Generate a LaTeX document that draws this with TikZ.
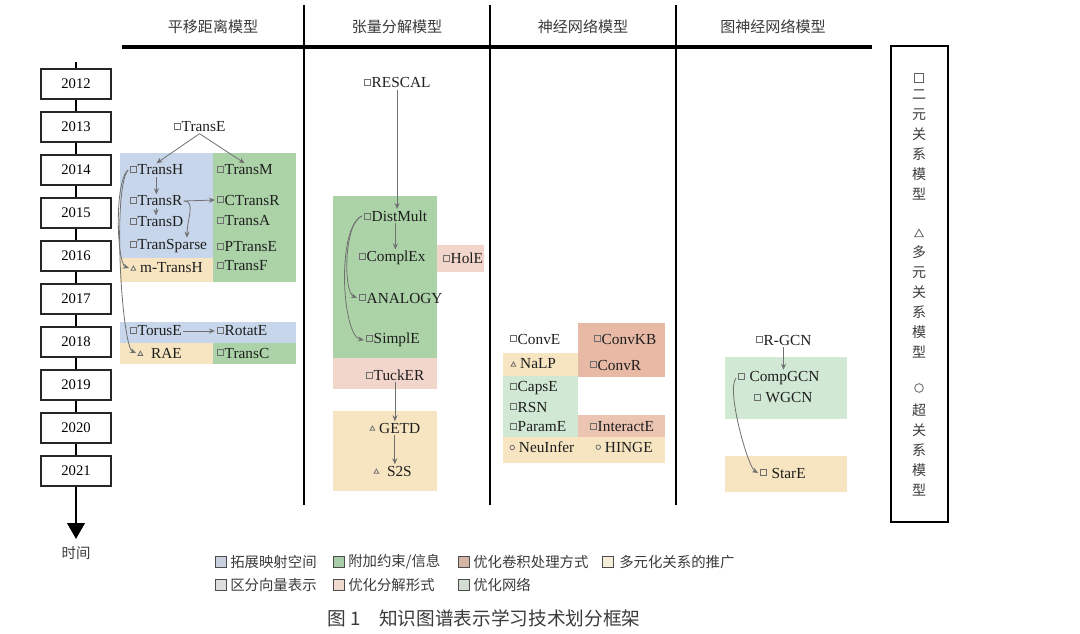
\documentclass[tikz,border=0pt]{standalone}
\usepackage{fontspec}
\setmainfont{Liberation Serif}
\newfontfamily\cjk{Noto Sans CJK SC}
\newfontfamily\symf{DejaVu Sans}
\usetikzlibrary{arrows.meta}
\definecolor{blueR}{HTML}{C7D6EA}
\definecolor{greenR}{HTML}{ACD3A8}
\definecolor{pinkR}{HTML}{F3D6CB}
\definecolor{salmonR}{HTML}{E8BAA5}
\definecolor{orangeR}{HTML}{F6E5C0}
\definecolor{lgreenR}{HTML}{D0E8D4}
\definecolor{mk}{HTML}{6E6E6E}
\definecolor{txt}{HTML}{1E1E1E}
\definecolor{arr}{HTML}{707070}
\definecolor{ttl}{HTML}{3A3A3A}
\definecolor{lc1}{HTML}{C9D1DF}
\definecolor{lc2}{HTML}{A9CCA9}
\definecolor{lc3}{HTML}{D4B6A6}
\definecolor{lc4}{HTML}{F6EDD8}
\definecolor{lc5}{HTML}{DEDEDE}
\definecolor{lc6}{HTML}{F0DAD0}
\definecolor{lc7}{HTML}{D3DDD3}
\newcommand\msq{\tikz[baseline=0pt]\draw[mk, line width=0.7pt] (0pt,1.6pt) rectangle (4.6pt,6.2pt);\hspace{0.8pt}}
\newcommand\mtri{\tikz[baseline=0pt]\draw[mk, line width=0.6pt] (0pt,2pt) -- (3.6pt,2pt) -- (1.8pt,5.2pt) -- cycle;\hspace{3pt}}
\newcommand\mcir{\tikz[baseline=0pt]\draw[mk, line width=0.6pt] (1.8pt,3.6pt) circle[radius=1.7pt];\hspace{3pt}}
\tikzset{
  mdl/.style={anchor=west, inner sep=1pt, text=txt, font=\fontsize{11.5}{12}\selectfont},
  conn/.style={draw=arr, line width=0.6pt, -{Stealth[length=4.5pt,width=3.8pt]}},
  yearbox/.style={draw=black!85, line width=1.3pt, fill=white, minimum width=52pt, minimum height=23pt, inner sep=0pt, font=\fontsize{11}{12}\selectfont},
  divider/.style={line width=2.2pt, black},
  coltitle/.style={text=ttl, font=\cjk\fontsize{11.3}{12}\selectfont},
  legsq/.style={draw=black!70, line width=0.8pt, minimum size=8pt, inner sep=0pt},
  legtxt/.style={anchor=west, inner sep=0pt, text=ttl, font=\cjk\fontsize{10.8}{12}\selectfont},
  vtext/.style={align=center, inner sep=0pt, text=ttl, font=\cjk\fontsize{10.5}{15}\selectfont},
  vmark/.style={inner sep=0pt, draw=ttl!80, line width=0.6pt}
}
\begin{document}
\begin{tikzpicture}[x=0.75pt, y=-0.75pt]
\useasboundingbox (0,0) rectangle (1080,634);
% ---------- background regions ----------
\fill[blueR] (120,153) rectangle (213,258);
\fill[orangeR] (120,258) rectangle (213,282);
\fill[greenR] (213,153) rectangle (296,282);
\fill[blueR] (120,322) rectangle (296,343);
\fill[orangeR] (120,343) rectangle (213,364);
\fill[greenR] (213,343) rectangle (296,364);
\fill[greenR] (333,196) rectangle (437,358);
\fill[pinkR] (333,358) rectangle (437,389);
\fill[pinkR] (437,245) rectangle (484,272);
\fill[orangeR] (333,411) rectangle (437,491);
\fill[salmonR] (578,323) rectangle (665,377);
\fill[orangeR] (503,353) rectangle (578,463);
\fill[orangeR] (578,437) rectangle (665,463);
\fill[lgreenR] (503,376) rectangle (578,437);
\fill[salmonR!85!white] (578,415) rectangle (665,437);
\fill[lgreenR] (725,357) rectangle (847,419);
\fill[orangeR] (725,456) rectangle (847,492);
% ---------- frame lines ----------
\draw[divider] (304,5) -- (304,505);
\draw[divider] (490,5) -- (490,505);
\draw[divider] (676,5) -- (676,505);
\draw[line width=3pt] (122,47) -- (872,47);
\draw[line width=2.2pt] (891,46) rectangle (948,522);
\node[coltitle] (t1) at (213,27) {平移距离模型};
\node[coltitle] (t2) at (397,27) {张量分解模型};
\node[coltitle] (t3) at (583,27) {神经网络模型};
\node[coltitle] (t4) at (773,27) {图神经网络模型};
% ---------- right key box ----------
\node[vmark, rectangle, minimum size=6.5pt] (k1) at (919,78) {};
\node[vtext] (k1t) at (919,145) {二\\元\\关\\系\\模\\型};
\node[inner sep=0pt] (k2) at (919,233) {\tikz\draw[ttl!80, line width=0.6pt] (0pt,0pt) -- (6.5pt,0pt) -- (3.25pt,5.6pt) -- cycle;};
\node[vtext] (k2t) at (919,302) {多\\元\\关\\系\\模\\型};
\node[vmark, circle, minimum size=6.5pt] (k3) at (919,388) {};
\node[vtext] (k3t) at (919,450) {超\\关\\系\\模\\型};
% ---------- timeline ----------
\coordinate (ttop) at (76,62);
\coordinate (tend) at (76,539);
\foreach \yr/\yy in {2012/84,2013/127,2014/170,2015/213,2016/256,2017/299,2018/342,2019/385,2020/428,2021/471}
  \node[yearbox] (y\yr) at (76,\yy) {\yr};
\draw[line width=2.2pt] (ttop) -- (y2012.north);
\foreach \a/\b in {2012/2013,2013/2014,2014/2015,2015/2016,2016/2017,2017/2018,2018/2019,2019/2020,2020/2021}
  \draw[line width=2.2pt] (y\a.south) -- (y\b.north);
\draw[line width=2.2pt, -{Triangle[length=12pt,width=13pt]}] (y2021.south) -- (tend);
\node[text=ttl, font=\cjk\fontsize{10.8}{12}\selectfont] (time) at (76,553) {时间};
% ---------- translation models ----------
\node[mdl] (transe) at (172,127) {\msq TransE};
\node[mdl] (transh) at (128,170) {\msq TransH};
\node[mdl] (transr) at (128,201) {\msq TransR};
\node[mdl] (transd) at (128,222) {\msq TransD};
\node[mdl] (transparse) at (128,246) {\msq TranSparse};
\node[mdl] (mtransh) at (129,268) {\mtri m-TransH};
\node[mdl] (transm) at (215,170) {\msq TransM};
\node[mdl] (ctransr) at (215,200) {\msq CTransR};
\node[mdl] (transa) at (215,221) {\msq TransA};
\node[mdl] (ptranse) at (215,247) {\msq PTransE};
\node[mdl] (transf) at (215,266) {\msq TransF};
\node[mdl] (toruse) at (128,331) {\msq TorusE};
\node[mdl] (rotate) at (215,331) {\msq RotatE};
\node[mdl] (rae) at (136,353) {\mtri\ RAE};
\node[mdl] (transc) at (215,353) {\msq TransC};
\draw[conn] (transe.south) -- (transh.north);
\draw[conn] (transe.south) -- (transm.north);
\draw[conn] (transh.south) -- (transh.south |- transr.north);
\draw[conn] (transr.south) -- (transr.south |- transd.north);
\draw[conn] (transr.east) -- (ctransr.west);
\draw[conn] (transr.east) .. controls +(12,0) and +(0,-18) .. ([xshift=14pt]transparse.north);
\draw[conn] (transh.west) .. controls +(-14,12) and +(-12,-4) .. (mtransh.west);
\draw[conn] (transh.west) .. controls +(-16,20) and +(-14,-6) .. (rae.west);
\draw[conn] (toruse.east) -- (rotate.west);
% ---------- tensor models ----------
\node[mdl] (rescal) at (362,83) {\msq RESCAL};
\node[mdl] (distmult) at (362,216) {\msq DistMult};
\node[mdl] (complex) at (357,258) {\msq ComplEx};
\node[mdl] (analogy) at (357,298) {\msq ANALOGY};
\node[mdl] (simple) at (364,340) {\msq SimplE};
\node[mdl] (hole) at (441,258) {\msq HolE};
\node[mdl] (tucker) at (364,375) {\msq TuckER};
\node[mdl] (getd) at (368,428) {\mtri GETD};
\node[mdl] (s2s) at (372,471) {\mtri\ S2S};
\draw[conn] (rescal.south) -- (rescal.south |- distmult.north);
\draw[conn] (distmult.south) -- (distmult.south |- complex.north);
\draw[conn] (distmult.west) .. controls +(-18,6) and +(-14,-6) .. (analogy.west);
\draw[conn] (distmult.west) .. controls +(-26,12) and +(-22,-4) .. (simple.west);
\draw[conn] (tucker.south) -- (tucker.south |- getd.north);
\draw[conn] (getd.south) -- (getd.south |- s2s.north);
% ---------- neural network models ----------
\node[mdl] (conve) at (508,339) {\msq ConvE};
\node[mdl] (convkb) at (592,339) {\msq ConvKB};
\node[mdl] (convr) at (588,365) {\msq ConvR};
\node[mdl] (nalp) at (509,364) {\mtri NaLP};
\node[mdl] (capse) at (508,388) {\msq CapsE};
\node[mdl] (rsn) at (508,407) {\msq RSN};
\node[mdl] (parame) at (508,427) {\msq ParamE};
\node[mdl] (interacte) at (588,427) {\msq InteractE};
\node[mdl] (neuinfer) at (508,447) {\mcir NeuInfer};
\node[mdl] (hinge) at (594,447) {\mcir HINGE};
% ---------- graph neural network models ----------
\node[mdl] (rgcn) at (754,340) {\msq R-GCN};
\node[mdl] (compgcn) at (736,378) {\msq\ CompGCN};
\node[mdl] (wgcn) at (752,398) {\msq\ WGCN};
\node[mdl] (stare) at (758,473) {\msq\ StarE};
\draw[conn] (rgcn.south) -- (rgcn.south |- compgcn.north);
\draw[conn] (compgcn.west) .. controls +(-10,12) and +(-10,-6) .. (stare.west);
% ---------- legend ----------
\node[legsq, fill=lc1] (l1) at (221,562) {};
\node[legtxt] (l1t) at (230,562) {拓展映射空间};
\node[legsq, fill=lc2] (l2) at (339,562) {};
\node[legtxt] (l2t) at (348,562) {附加约束/信息};
\node[legsq, fill=lc3] (l3) at (464,562) {};
\node[legtxt] (l3t) at (473,562) {优化卷积处理方式};
\node[legsq, fill=lc4] (l4) at (608,562) {};
\node[legtxt] (l4t) at (619,562) {多元化关系的推广};
\node[legsq, fill=lc5] (l5) at (221,585) {};
\node[legtxt] (l5t) at (230,585) {区分向量表示};
\node[legsq, fill=lc6] (l6) at (339,585) {};
\node[legtxt] (l6t) at (348,585) {优化分解形式};
\node[legsq, fill=lc7] (l7) at (464,585) {};
\node[legtxt] (l7t) at (473,585) {优化网络};
\node[anchor=west, inner sep=0pt, text=ttl, font=\cjk\fontsize{14}{16}\selectfont] (cap) at (327,618) {图 1\hspace{14pt}知识图谱表示学习技术划分框架};
\end{tikzpicture}
\end{document}
